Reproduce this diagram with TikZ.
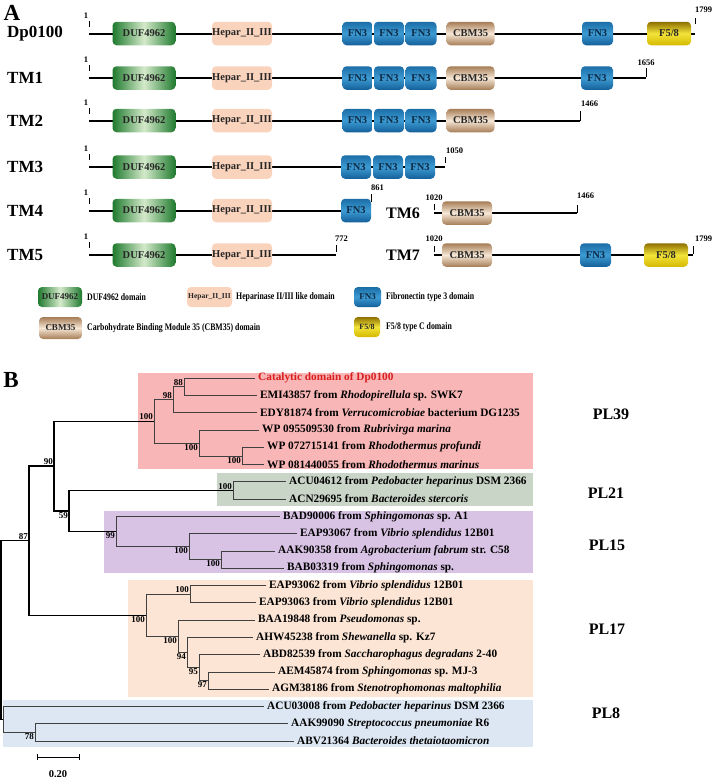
\documentclass[tikz,border=0pt]{standalone}
\usepackage{fontspec}
\setmainfont{Liberation Serif}
\newfontfamily\legfont[FakeStretch=0.78]{Liberation Serif}
\newcommand{\myfs}[1]{\fontsize{#1}{#1}\selectfont\bfseries}
\definecolor{dufdark}{HTML}{1F7A2E}
\definecolor{duflight}{HTML}{D5EACB}
\definecolor{hepcol}{HTML}{FAD3BD}
\definecolor{fntop}{HTML}{1B6DA6}
\definecolor{fnmid}{HTML}{3D9BD3}
\definecolor{fnbot}{HTML}{14609A}
\definecolor{fntext}{HTML}{0E2A45}
\definecolor{cbmdark}{HTML}{A67D56}
\definecolor{cbmlight}{HTML}{F6E7D6}
\definecolor{f58top}{HTML}{8E7000}
\definecolor{f58mid}{HTML}{F3E43A}
\definecolor{f58bot}{HTML}{D4B800}
\definecolor{pl39}{HTML}{F9B6B6}
\definecolor{pl21}{HTML}{C9D5C7}
\definecolor{pl15}{HTML}{D9C3E5}
\definecolor{pl17}{HTML}{FCE5D5}
\definecolor{pl8}{HTML}{DDE7F3}
\definecolor{catred}{HTML}{D81E1E}
\begin{document}
\begin{tikzpicture}[x=1pt,y=-1pt,
  bb/.style={line width=2pt,black},
  tickln/.style={line width=0.6pt},
  num/.style={font=\myfs{8.5},inner sep=0pt},
  rowlab/.style={font=\myfs{17},anchor=west,inner sep=0pt},
  dom/.style={rounded corners=4pt,minimum height=23.5pt,inner sep=0pt,font=\myfs{10.5}},
  duf/.style={dom,left color=dufdark,right color=dufdark,middle color=duflight,text=black!85},
  hep/.style={dom,fill=hepcol,text=black!85},
  fn/.style={dom,top color=fntop,bottom color=fnbot,middle color=fnmid,text=fntext},
  cbm/.style={dom,top color=cbmdark,bottom color=cbmdark,middle color=cbmlight,text=black!85},
  ffc/.style={dom,top color=f58top,bottom color=f58bot,middle color=f58mid,text=black!85},
  leg/.style={anchor=west,inner sep=0pt,font=\legfont\bfseries\fontsize{10}{11}\selectfont},
  br/.style={line width=0.7pt,black!75},
  thk/.style={line width=1.4pt,black},
  leaf/.style={anchor=west,inner sep=0pt,xshift=3pt,font=\myfs{11.3}},
  bs/.style={font=\myfs{9},inner sep=1pt},
  grp/.style={font=\myfs{16},inner sep=0pt},
  panel/.style={font=\myfs{23},inner sep=0pt}
]
\useasboundingbox (0,0) rectangle (713,780);

%================ Panel A =================
\node[panel] (pA) at (12,13) {A};

\node[rowlab] (r0) at (7,33.5) {Dp0100};
\node[rowlab] (r1) at (7,78) {TM1};
\node[rowlab] (r2) at (7,120.5) {TM2};
\node[rowlab] (r3) at (7,167) {TM3};
\node[rowlab] (r4) at (7,210.5) {TM4};
\node[rowlab] (r5) at (7,255) {TM5};
\node[rowlab,font=\myfs{16}] (r6) at (386,213) {TM6};
\node[rowlab,font=\myfs{16}] (r7) at (386,255) {TM7};

\foreach \r/\y/\e in {0/33.5/695,1/78/646,2/120.5/580,3/167/445,4/210.5/371,5/255/336}{
  \coordinate (s\r) at (89,\y);
  \coordinate (e\r) at (\e,\y);
  \draw[bb] (s\r) -- (e\r);
  \draw[tickln] ([yshift=7pt]s\r) -- ([yshift=13pt]s\r);
  \node[num] (one\r) at ([xshift=-3pt,yshift=18pt]s\r) {1};
  \node[duf,minimum width=63pt] (duf\r) at (144,\y) {DUF4962};
  \node[hep,minimum width=60pt] (hep\r) at (242,\y) {Hepar\_II\_III};
}
% three FN3 rows
\foreach \r/\y in {0/33.5,1/78,2/120.5}{
  \node[fn,minimum width=30pt] (fa\r) at (357.5,\y) {FN3};
  \node[fn,minimum width=30pt] (fb\r) at (389,\y) {FN3};
  \node[fn,minimum width=31pt] (fc\r) at (421,\y) {FN3};
  \node[cbm,minimum width=48pt] (cbm\r) at (470.5,\y) {CBM35};
}
\node[fn,minimum width=30pt] (fa3) at (356,167) {FN3};
\node[fn,minimum width=30pt] (fb3) at (388,167) {FN3};
\node[fn,minimum width=30pt] (fc3) at (420,167) {FN3};
\node[fn,minimum width=30pt] (fa4) at (356,210.5) {FN3};

\node[fn,minimum width=31pt] (fd0) at (597.5,33.5) {FN3};
\node[ffc,minimum width=44pt] (f580) at (669,33.5) {F5/8};
\node[fn,minimum width=32pt] (fd1) at (597,78) {FN3};

% TM6, TM7
\coordinate (s6) at (434,213);
\coordinate (e6) at (577,213);
\coordinate (s7) at (434,255);
\coordinate (e7) at (693,255);
\draw[bb] (s6) -- (e6);
\draw[bb] (s7) -- (e7);
\node[cbm,minimum width=50pt] (cbm6) at (467,213) {CBM35};
\node[cbm,minimum width=50pt] (cbm7) at (467,255) {CBM35};
\node[fn,minimum width=31pt] (fd7) at (595.5,255) {FN3};
\node[ffc,minimum width=44pt] (f587) at (666,255) {F5/8};

% end ticks and numbers
\draw[tickln] ([yshift=10pt]e0) -- ([yshift=16pt]e0);
\node[num,anchor=west] (n1799a) at ([yshift=23.5pt]e0) {1799};
\draw[tickln] ([yshift=1pt]e1) -- ([yshift=10pt]e1);
\node[num] (n1656) at ([yshift=15pt]e1) {1656};
\draw[tickln] (e2) -- ([yshift=10pt]e2);
\node[num,anchor=west] (n1466a) at ([xshift=1pt,yshift=16.5pt]e2) {1466};
\draw[tickln] ([yshift=4pt]e3) -- ([yshift=10pt]e3);
\node[num,anchor=west] (n1050) at ([xshift=1pt,yshift=16pt]e3) {1050};
\draw[tickln] ([yshift=9pt]e4) -- ([yshift=17pt]e4);
\node[num,anchor=west] (n861) at ([yshift=22.5pt]e4) {861};
\draw[tickln] ([yshift=3pt]e5) -- ([yshift=10pt]e5);
\node[num,anchor=west] (n772) at ([xshift=-1pt,yshift=16pt]e5) {772};
\draw[tickln] ([yshift=3pt]s6) -- ([yshift=9pt]s6);
\node[num] (n1020a) at ([yshift=15pt]s6) {1020};
\draw[tickln] (e6) -- ([yshift=8pt]e6);
\node[num,anchor=west] (n1466b) at ([yshift=17pt]e6) {1466};
\draw[tickln] ([yshift=3pt]s7) -- ([yshift=9pt]s7);
\node[num] (n1020b) at ([yshift=16pt]s7) {1020};
\draw[tickln] ([yshift=1pt]e7) -- ([yshift=9pt]e7);
\node[num,anchor=west] (n1799b) at ([xshift=2pt,yshift=16pt]e7) {1799};

% legend
\node[duf,minimum width=44pt,minimum height=20pt,font=\myfs{9}] (lgduf) at (60,297) {DUF4962};
\node[leg] (lgt1) at (87,297) {DUF4962 domain};
\node[hep,minimum width=45pt,minimum height=20pt,font=\myfs{7.5}] (lghep) at (209.5,297) {Hepar\_II\_III};
\node[leg] (lgt2) at (236,297) {Heparinase II/III like domain};
\node[fn,minimum width=27pt,minimum height=20pt,font=\myfs{9}] (lgfn) at (367.5,297) {FN3};
\node[leg] (lgt3) at (386,297) {Fibronectin type 3 domain};
\node[cbm,minimum width=43pt,minimum height=22pt,font=\myfs{9}] (lgcbm) at (60.5,328) {CBM35};
\node[leg] (lgt4) at (87,328) {Carbohydrate Binding Module 35 (CBM35) domain};
\node[ffc,minimum width=26pt,minimum height=20pt,font=\myfs{8}] (lgf58) at (367,327) {F5/8};
\node[leg] (lgt5) at (386,327) {F5/8 type C domain};

%================ Panel B =================
\node[panel] (pB) at (11,379.5) {B};

\fill[pl39] (138,373) rectangle (533,469);
\fill[pl21] (217,473) rectangle (533,506);
\fill[pl15] (104,511) rectangle (533,573);
\fill[pl17] (128,580) rectangle (533,697);
\fill[pl8] (3,700) rectangle (533,747);

% internal nodes
\coordinate (root) at (1,630.1);
\coordinate (n87) at (29,540.7);
\coordinate (n90) at (54,466.1);
\coordinate (nPL39) at (154,421.2);
\coordinate (n98) at (173,399.6);
\coordinate (n88) at (184,386.7);
\coordinate (nWP) at (199,442.9);
\coordinate (nWP2) at (242,455.9);
\coordinate (n59) at (69,510.9);
\coordinate (nPL21) at (233,490.4);
\coordinate (nPL15) at (116,531.4);
\coordinate (n189) at (189,546.6);
\coordinate (n221) at (221,559.6);
\coordinate (nPL17) at (146,615.3);
\coordinate (nA) at (190,594.2);
\coordinate (nB) at (178,636.3);
\coordinate (n94) at (187,652.5);
\coordinate (n95) at (199,667.6);
\coordinate (n97) at (208,680.6);
\coordinate (nPL8) at (3.5,719.5);
\coordinate (n78) at (35,732.5);

% leaves
\coordinate (l0) at (255,378.0);
\coordinate (l1) at (257,395.3);
\coordinate (l2) at (257,412.6);
\coordinate (l3) at (259,429.9);
\coordinate (l4) at (264,447.2);
\coordinate (l5) at (264,464.5);
\coordinate (l6) at (286,481.7);
\coordinate (l7) at (286,499.0);
\coordinate (l8) at (280,516.3);
\coordinate (l9) at (297,533.6);
\coordinate (l10) at (275,550.9);
\coordinate (l11) at (284,568.2);
\coordinate (l12) at (266,585.5);
\coordinate (l13) at (256,602.8);
\coordinate (l14) at (255,620.1);
\coordinate (l15) at (253,637.4);
\coordinate (l16) at (260,654.6);
\coordinate (l17) at (275,671.9);
\coordinate (l18) at (269,689.2);
\coordinate (l19) at (264,706.5);
\coordinate (l20) at (288,723.8);
\coordinate (l21) at (294,741.1);

% thick backbone
\draw[thk] (root) |- (n87);
\draw[thk] (root) |- (nPL8);
\draw[thk] (n87) |- (n90);
\draw[thk] (n87) |- (nPL17);
\draw[thk] (n90) |- (nPL39);
\draw[thk] (n90) |- (n59);
\draw[thk] (n59) |- (nPL21);
\draw[thk] (n59) |- (nPL15);

% thin branches
\draw[br] (nPL39) |- (n98);
\draw[br] (nPL39) |- (nWP);
\draw[br] (n98) |- (n88);
\draw[br] (n98) |- (l2);
\draw[br] (n88) |- (l0);
\draw[br] (n88) |- (l1);
\draw[br] (nWP) |- (l3);
\draw[br] (nWP) |- (nWP2);
\draw[br] (nWP2) |- (l4);
\draw[br] (nWP2) |- (l5);
\draw[br] (nPL21) |- (l6);
\draw[br] (nPL21) |- (l7);
\draw[br] (nPL15) |- (l8);
\draw[br] (nPL15) |- (n189);
\draw[br] (n189) |- (l9);
\draw[br] (n189) |- (n221);
\draw[br] (n221) |- (l10);
\draw[br] (n221) |- (l11);
\draw[br] (nPL17) |- (nA);
\draw[br] (nPL17) |- (nB);
\draw[br] (nA) |- (l12);
\draw[br] (nA) |- (l13);
\draw[br] (nB) |- (l14);
\draw[br] (nB) |- (n94);
\draw[br] (n94) |- (l15);
\draw[br] (n94) |- (n95);
\draw[br] (n95) |- (l16);
\draw[br] (n95) |- (n97);
\draw[br] (n97) |- (l17);
\draw[br] (n97) |- (l18);
\draw[br] (nPL8) |- (l19);
\draw[br] (nPL8) |- (n78);
\draw[br] (n78) |- (l20);
\draw[br] (n78) |- (l21);

% leaf labels
\node[leaf,text=catred] (t0) at (l0) {Catalytic domain of Dp0100};
\node[leaf] (t1) at (l1) {EMI43857 from \textit{Rhodopirellula} sp. SWK7};
\node[leaf] (t2) at (l2) {EDY81874 from \textit{Verrucomicrobiae} bacterium DG1235};
\node[leaf] (t3) at (l3) {WP 095509530 from \textit{Rubrivirga marina}};
\node[leaf] (t4) at (l4) {WP 072715141 from \textit{Rhodothermus profundi}};
\node[leaf] (t5) at (l5) {WP 081440055 from \textit{Rhodothermus marinus}};
\node[leaf] (t6) at (l6) {ACU04612 from \textit{Pedobacter heparinus} DSM 2366};
\node[leaf] (t7) at (l7) {ACN29695 from \textit{Bacteroides stercoris}};
\node[leaf] (t8) at (l8) {BAD90006 from \textit{Sphingomonas} sp. A1};
\node[leaf] (t9) at (l9) {EAP93067 from \textit{Vibrio splendidus} 12B01};
\node[leaf] (t10) at (l10) {AAK90358 from \textit{Agrobacterium fabrum} str. C58};
\node[leaf] (t11) at (l11) {BAB03319 from \textit{Sphingomonas} sp.};
\node[leaf] (t12) at (l12) {EAP93062 from \textit{Vibrio splendidus} 12B01};
\node[leaf] (t13) at (l13) {EAP93063 from \textit{Vibrio splendidus} 12B01};
\node[leaf] (t14) at (l14) {BAA19848 from \textit{Pseudomonas} sp.};
\node[leaf] (t15) at (l15) {AHW45238 from \textit{Shewanella} sp. Kz7};
\node[leaf] (t16) at (l16) {ABD82539 from \textit{Saccharophagus degradans} 2-40};
\node[leaf] (t17) at (l17) {AEM45874 from \textit{Sphingomonas} sp. MJ-3};
\node[leaf] (t18) at (l18) {AGM38186 from \textit{Stenotrophomonas maltophilia}};
\node[leaf] (t19) at (l19) {ACU03008 from \textit{Pedobacter heparinus} DSM 2366};
\node[leaf] (t20) at (l20) {AAK99090 \textit{Streptococcus pneumoniae} R6};
\node[leaf] (t21) at (l21) {ABV21364 \textit{Bacteroides thetaiotaomicron}};

% bootstrap values
\node[bs,anchor=south east] (b88) at (n88) {88};
\node[bs,anchor=south east] (b98) at (n98) {98};
\node[bs,anchor=south east] (b39) at (nPL39) {100};
\node[bs,anchor=north east] (bWP) at (nWP) {100};
\node[bs,anchor=north east] (bWP2) at (nWP2) {100};
\node[bs,anchor=south east] (b90) at (n90) {90};
\node[bs,anchor=north east] (b59) at (n59) {59};
\node[bs,anchor=south east] (b87) at (n87) {87};
\node[bs,anchor=south east] (b21) at (nPL21) {100};
\node[bs,anchor=north east] (b99) at (nPL15) {99};
\node[bs,anchor=north east] (b189) at (n189) {100};
\node[bs,anchor=north east] (b221) at (n221) {100};
\node[bs,anchor=north east] (b17) at (nPL17) {100};
\node[bs,anchor=south east] (bA) at (nA) {100};
\node[bs,anchor=north east] (bB) at (nB) {100};
\node[bs,anchor=north east] (b94) at (n94) {94};
\node[bs,anchor=north east] (b95) at (n95) {95};
\node[bs,anchor=north east] (b97) at (n97) {97};
\node[bs,anchor=north east] (b78) at (n78) {78};

% group labels
\node[grp] (g39) at (611,414) {PL39};
\node[grp] (g21) at (606,493) {PL21};
\node[grp] (g15) at (607,545) {PL15};
\node[grp] (g17) at (607,629) {PL17};
\node[grp] (g8) at (606,713) {PL8};

% scale bar
\coordinate (sb1) at (37,757);
\coordinate (sb2) at (79,757);
\draw[line width=1pt] (sb1) -- (sb2);
\draw[line width=0.8pt] ([yshift=3pt]sb1) -- ([yshift=-3pt]sb1);
\draw[line width=0.8pt] ([yshift=3pt]sb2) -- ([yshift=-3pt]sb2);
\node[font=\myfs{10.5},inner sep=0pt] (sbl) at (58,774) {0.20};
\end{tikzpicture}
\end{document}
